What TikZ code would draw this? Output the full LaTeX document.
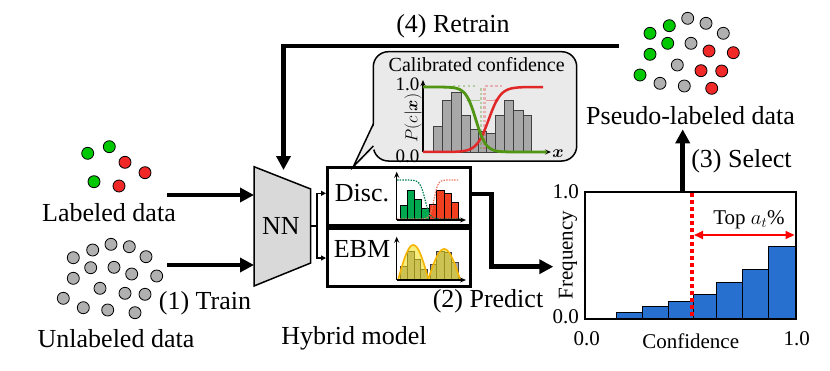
\documentclass[tikz,border=0pt]{standalone}
\usepackage{fontspec}
\setmainfont{Liberation Serif}
\usepackage{bm}
\usetikzlibrary{arrows.meta,calc}
\definecolor{dotgreen}{RGB}{0,200,0}
\definecolor{dotred}{RGB}{240,40,40}
\definecolor{dotgray}{RGB}{176,176,176}
\definecolor{bargreen}{RGB}{0,168,80}
\definecolor{barred}{RGB}{240,64,32}
\definecolor{barblue}{RGB}{40,112,208}
\definecolor{curvegreen}{RGB}{80,150,20}
\definecolor{curvered}{RGB}{225,40,40}
\definecolor{ebmyellow}{RGB}{240,220,0}
\definecolor{ebmline}{RGB}{245,180,0}
\definecolor{bubblegray}{RGB}{234,234,234}
\definecolor{histgray}{RGB}{168,168,168}
\definecolor{nngray}{RGB}{217,217,217}
\definecolor{teal2}{RGB}{0,128,90}
\definecolor{salmon2}{RGB}{240,120,100}
\tikzset{
  pdot/.style={circle, draw=black, line width=0.8pt, minimum size=12pt, inner sep=0pt},
  lbl/.style={font=\fontsize{26}{28}\selectfont, inner sep=0pt},
  mid/.style={font=\fontsize{21}{23}\selectfont, inner sep=0pt},
  small/.style={font=\fontsize{19}{21}\selectfont, inner sep=0pt},
  bigarrow/.style={line width=4.5pt, -{Triangle[length=14pt,width=14pt]}},
  thinarrow/.style={line width=1.5pt, -{Triangle[length=5pt,width=5pt]}},
  boxst/.style={draw, line width=3pt, inner sep=0pt},
  histbar/.style={fill=histgray, draw=black!75, line width=0.9pt},
  axisarrow/.style={line width=1.4pt, -{Stealth[length=6pt,width=5pt]}},
}
\begin{document}
\begin{tikzpicture}[x=1pt,y=-1pt]
\useasboundingbox[fill=white] (0,0) rectangle (830,370);

% ---------- labeled data ----------
\foreach \n/\x/\y/\c in {1/87.7/153.3/dotgreen, 2/109.3/146.7/dotgreen, 3/125/162.3/dotred,
  4/145/172.7/dotred, 5/94/181.7/dotgreen, 6/119/186/dotred}
  \node[pdot, fill=\c] (ld\n) at (\x,\y) {};
\node[lbl] (labeled) at (109,213) {Labeled data};

% ---------- unlabeled data ----------
\foreach \n/\x/\y in {1/111/244.3, 2/129.3/246.7, 3/92.7/250, 4/146/256.7, 5/73.3/257.7,
  6/90.7/267.7, 7/114/267.3, 8/131.7/274, 9/156.7/276, 10/73.3/278.3, 11/100/288.3,
  12/125/293.3, 13/145/294.3, 14/63.3/298.3, 15/83.3/307.7, 16/107.7/310, 17/135/312.7}
  \node[pdot, fill=dotgray] (ud\n) at (\x,\y) {};
\node[lbl] (unlabeled) at (116,339) {Unlabeled data};
\node[lbl] (train) at (205,303) {(1) Train};

% ---------- NN ----------
\coordinate (nnTL) at (254,166.7);
\coordinate (nnTR) at (310.7,189);
\coordinate (nnBR) at (310.7,263);
\coordinate (nnBL) at (254,286);
\draw[fill=nngray, line width=1.5pt] (nnTL) -- (nnTR) -- (nnBR) -- (nnBL) -- cycle;
\node[lbl] (nn) at (281,226) {NN};

\coordinate (labA) at (167,195);
\coordinate (nnInA) at (254,195);
\coordinate (unlA) at (167,265);
\coordinate (nnInB) at (254,265);
\draw[bigarrow] (labA) -- (nnInA);
\draw[bigarrow] (unlA) -- (nnInB);

% ---------- hybrid model boxes ----------
\node[boxst, minimum width=142.7pt, minimum height=57.7pt] (disc) at (398.65,196.15) {};
\node[boxst, minimum width=142.7pt, minimum height=58.4pt] (ebm) at (398.65,257.5) {};
\node[lbl] (disctxt) at (362,193) {Disc.};
\node[lbl] (ebmtxt) at (362,249) {EBM};
\node[lbl] (hybrid) at (354,338) {Hybrid model};

\coordinate (nnOut) at (310.7,226);
\coordinate (split) at (317,226);
\coordinate (discIn) at (326,193.3);
\coordinate (ebmIn) at (326,258);
\draw[line width=1.5pt] (nnOut) -- (split);
\draw[thinarrow] (split) |- (discIn);
\draw[thinarrow] (split) |- (ebmIn);

% disc mini chart
\foreach \a/\b/\t in {400.7/407.3/205, 407.3/414/190.7, 414/421.7/199.3, 421.7/429.3/208.3}
  \draw[fill=bargreen, draw=black, line width=0.9pt] (\a,220) rectangle (\b,\t);
\foreach \a/\b/\t in {429.3/436.7/204.3, 436.7/444.3/190, 444.3/451.7/193.3, 451.7/458.3/202.3}
  \draw[fill=barred, draw=black, line width=0.9pt] (\a,220) rectangle (\b,\t);
\draw[teal2, line width=1.2pt, dash pattern=on 1.5pt off 1.2pt]
  plot[domain=397:460, samples=50] (\x,{219-39/(1+exp(min(8,max(-8,(\x-425)/2.5))))});
\draw[salmon2, line width=1.2pt, dash pattern=on 1.5pt off 1.2pt]
  plot[domain=397:458, samples=50] (\x,{219-39/(1+exp(min(8,max(-8,-(\x-434)/2))))});
\draw[axisarrow] (396.7,220) -- (396.7,171.7);
\draw[axisarrow] (396.7,220) -- (466,220);

% ebm mini chart
\foreach \a/\b/\t in {400/407.3/266.7, 407.3/414/251.7, 414/420.7/259.3, 420.7/427.3/269.3,
  430.7/436.7/264, 436.7/444/251.7, 444/451.7/252.7, 451.7/458.3/262.7}
  \draw[histbar] (\a,280) rectangle (\b,\t);
\fill[ebmyellow, opacity=0.5] plot[domain=398.3:428.3, samples=40] (\x,{279-34*sin(180*(\x-398.3)/30)}) -- cycle;
\fill[ebmyellow, opacity=0.5] plot[domain=428.3:460, samples=40] (\x,{279-30*sin(180*(\x-428.3)/31.7)}) -- cycle;
\draw[ebmline, line width=1.6pt] plot[domain=398.3:428.3, samples=40] (\x,{279-34*sin(180*(\x-398.3)/30)});
\draw[ebmline, line width=1.6pt] plot[domain=428.3:460, samples=40] (\x,{279-30*sin(180*(\x-428.3)/31.7)});
\draw[axisarrow] (396.7,280) -- (396.7,236.7);
\draw[axisarrow] (396.7,280) -- (466,280);

% ---------- callout bubble ----------
\draw[fill=bubblegray, line width=1.5pt, rounded corners=15pt] (373.3,51.7) rectangle (576.7,161);
\coordinate (tailA) at (373.3,124);
\coordinate (tailB) at (373.3,146);
\coordinate (tailTip) at (353.3,166.7);
\fill[bubblegray] (375.5,122) -- (tailTip) -- (375.5,148) -- cycle;
\draw[line width=1.5pt, line join=miter] (tailA) -- (tailTip) -- (tailB);
\node[small, font=\fontsize{20}{22}\selectfont] (calib) at (476.7,65) {Calibrated confidence};
\draw[axisarrow] (423,152) -- (423,80);
\draw[axisarrow] (423,152) -- (551,152);
\foreach \a/\b/\t in {433.3/442.3/126.7, 442.3/451.7/100, 451.7/461/92.7, 461/470/115,
  470/478.3/129.3, 478.3/486.7/131.7, 486.7/495/133.3, 495/504.3/115, 504.3/513.3/100,
  513.3/523.3/110.7, 523.3/531.7/115}
  \draw[histbar] (\a,152) rectangle (\b,\t);
\draw[curvegreen, line width=2.5pt, opacity=0.35, dash pattern=on 2.5pt off 2pt] (481,88) -- (481,151);
\draw[curvered, line width=2.5pt, opacity=0.3, dash pattern=on 2.5pt off 2pt] (484.5,88) -- (484.5,151);
\draw[curvegreen, line width=2pt, opacity=0.35, dash pattern=on 2pt off 3pt] (453,86) -- (478,86);
\draw[curvered, line width=2.5pt, opacity=0.3, dash pattern=on 3pt off 2pt] (485,86) -- (502,86);
\draw[curvegreen, line width=1.2pt, opacity=0.45, -{Stealth[length=5pt]}] (480,100.7) -- (466,100.7);
\draw[curvered, line width=1.2pt, opacity=0.4, -{Stealth[length=5pt]}] (486,100.7) -- (499,100.7);
\draw[curvered, line width=2.5pt]
  plot[domain=423:543, samples=80] (\x,{152-65/(1+exp(min(8,max(-8,-(\x-488.7)/6))))});
\draw[curvegreen, line width=2.8pt]
  plot[domain=423:547, samples=80] (\x,{152-65/(1+exp(min(8,max(-8,(\x-475.8)/5))))});
\node[small] (b10) at (407.5,84) {1.0};
\node[small] (b00) at (407.5,156) {0.0};
\node[small, rotate=90] (pcx) at (413,118) {$P(c|\bm{x})$};
\node[small] (bx) at (558,154) {$\bm{x}$};

% ---------- retrain ----------
\coordinate (retrainStart) at (619,46);
\coordinate (nnTop) at (283.5,170);
\draw[line width=4.5pt] (retrainStart) -- (283.5,46);
\draw[bigarrow] (283.5,43.75) -- (nnTop);
\node[lbl] (retrain) at (453,26) {(4) Retrain};

% ---------- pseudo-labeled ----------
\foreach \n/\x/\y/\c in {1/650/33.3/dotgreen, 2/669.3/25.7/dotgreen, 3/687.7/18.3/dotgray,
  4/706/23.3/dotgray, 5/723.3/33.3/dotgray, 6/667.7/43.3/dotgreen, 7/691/43.3/dotgray,
  8/709/51/dotred, 9/733.3/52.7/dotred, 10/650/54.3/dotgreen, 11/677.3/65/dotgray,
  12/701/70.7/dotred, 13/721.7/71/dotred, 14/640/75/dotgreen, 15/660/83.3/dotgray,
  16/684.3/86/dotgray, 17/711.7/88.3/dotred}
  \node[pdot, fill=\c] (pd\n) at (\x,\y) {};
\node[lbl] (pseudo) at (690.5,116) {Pseudo-labeled data};

% ---------- confidence chart ----------
\foreach \a/\b/\t in {616.7/642.3/312.7, 642.3/668.3/306, 668.3/693.3/301, 693.3/716.7/294,
  716.7/742.7/282.7, 742.7/768.3/269, 768.3/795/246}
  \draw[fill=barblue, draw=black, line width=1pt] (\a,319.3) rectangle (\b,\t);
\node[draw, line width=2pt, minimum width=210.7pt, minimum height=127.6pt, inner sep=0pt] (chart) at (690.35,255.5) {};
\draw[red, line width=4pt, dash pattern=on 4pt off 3pt] (692.3,193) -- (692.3,318);
\draw[red, line width=2pt, {Triangle[length=9pt,width=8pt]}-{Triangle[length=9pt,width=8pt]}] (694,235) -- (794.5,235);
\node[mid] (topat) at (749,220) {Top $a_t$\%};
\node[mid, anchor=east] (c10) at (579,191.7) {1.0};
\node[mid, anchor=east] (c00) at (579,316.7) {0.0};
\node[mid] (x00) at (586.7,338.3) {0.0};
\node[mid] (x10) at (796.7,338.3) {1.0};
\node[mid] (conf) at (690.7,341) {Confidence};
\node[mid, rotate=90] (freq) at (568,255) {Frequency};

% select
\coordinate (chartTop) at (682.7,191.7);
\coordinate (pseudoBot) at (682.7,129.3);
\draw[bigarrow] (chartTop) -- (pseudoBot);
\node[lbl] (select) at (741.5,161) {(3) Select};

% predict
\coordinate (discOut) at (470,194);
\coordinate (predBend1) at (491.7,194);
\coordinate (chartIn) at (553.3,266.7);
\draw[bigarrow] (discOut) -- (predBend1) |- (chartIn);
\node[lbl] (predict) at (488,301) {(2) Predict};
\end{tikzpicture}
\end{document}
